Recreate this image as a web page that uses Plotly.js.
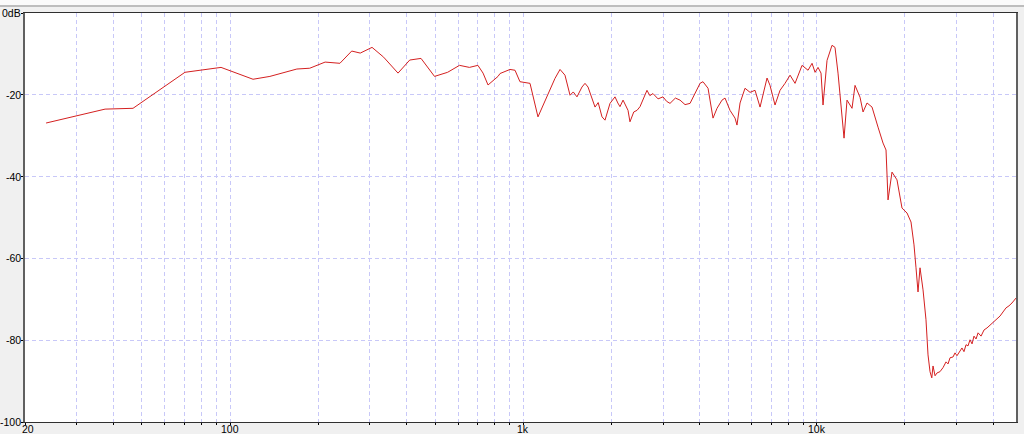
<!DOCTYPE html>
<html>
<head>
<meta charset="utf-8">
<script src="https://cdn.plot.ly/plotly-3.0.1.min.js"></script>
<style>html,body{margin:0;padding:0;background:#f0f0f0;}#chart{width:1024px;height:434px;}</style>
</head>
<body>
<div id="chart"></div>
<script>
// Frequency (Hz)
const freq = [
  23.6, 37.5, 46.7, 70.2, 79.0, 93.2, 119.8, 136.8, 169, 187, 211, 237, 260, 278, 305, 334, 374, 410, 448, 498,
  552, 606, 655, 700, 729, 758, 820, 833, 901, 937, 974, 1054, 1122, 1214, 1282, 1334, 1387, 1443, 1480, 1524, 1585,
  1623, 1662, 1756, 1800, 1855, 1899, 1975, 2054, 2100, 2136, 2188, 2230, 2275, 2310, 2380, 2442, 2500, 2640, 2700, 2768, 2880, 2994, 3080, 3164, 3300, 3422, 3560, 3702, 3850,
  4004, 4098, 4264, 4434, 4576, 4758, 4872, 5066, 5270, 5352, 5482, 5700, 5930, 6166, 6414, 6776, 6936, 7214, 7504, 7804,
  8118, 8442, 8920, 9350, 9648, 9878, 10112, 10352, 10516, 10852, 11286, 11554, 11830, 12402, 12696, 13204, 13520, 14062, 14398, 14856,
  15450, 16194, 16842, 17244, 17520, 18074, 18794, 19550, 20334, 20980, 21480, 21820, 22170, 22520, 23060, 23600, 23980, 24360, 24700, 24940,
  25340, 25740, 26340, 26980, 27620, 28060, 28500, 29180, 29640, 30100, 30820, 31300, 31800, 32320, 32820, 33340, 33880, 34400, 34960, 35520,
  36360, 37220, 38100, 39020, 39940, 40900, 42200, 43200, 44240, 45280, 46360, 47840
];
// Level (dB)
const level = [
  -26.9, -23.5, -23.3, -14.5, -14.0, -13.3, -16.2, -15.5, -13.7, -13.5, -12.0, -12.3, -9.3, -9.8, -8.4, -10.8, -14.7, -11.5, -11.1, -15.5,
  -14.5, -12.8, -13.3, -12.8, -14.7, -17.6, -15.5, -14.8, -13.8, -14.0, -16.8, -17.2, -25.4, -19.7, -16.0, -13.8, -15.2, -20.1, -19.3, -20.5, -18.1,
  -17.2, -18.1, -23.0, -21.9, -25.4, -26.2, -22.1, -20.5, -22.0, -22.9, -21.3, -22.6, -23.8, -26.6, -24.2, -23.8, -22.9, -18.9, -20.2, -19.7, -21.0, -20.5, -21.6, -22.1, -20.8, -21.3, -22.4, -22.1, -19.7,
  -17.2, -16.8, -18.4, -25.7, -23.3, -21.3, -20.8, -23.8, -25.7, -27.4, -22.0, -18.4, -19.4, -18.9, -23.0, -15.9, -17.7, -22.5, -18.9, -17.2,
  -15.2, -17.2, -12.8, -14.0, -12.3, -14.5, -13.3, -14.7, -22.5, -11.6, -7.9, -8.4, -14.7, -30.6, -21.3, -23.3, -17.7, -20.6, -24.2, -22.0,
  -23.0, -27.9, -31.8, -33.5, -45.7, -38.9, -40.8, -47.7, -48.9, -51.1, -56.7, -62.3, -68.2, -62.3, -67.7, -75.0, -83.6, -87.7, -89.2, -86.3,
  -88.7, -88.0, -87.7, -86.7, -85.3, -85.8, -84.3, -84.1, -83.1, -83.8, -82.8, -81.9, -82.8, -81.1, -81.4, -79.9, -80.9, -79.0, -79.7, -78.2,
  -79.0, -77.5, -77.0, -76.3, -75.5, -75.0, -74.1, -73.1, -72.1, -71.6, -70.9, -69.7
];
// Grid / tick positions
const xTickVals = [20,30,40,50,60,70,80,90,100,200,300,400,500,600,700,800,900,1000,2000,3000,4000,5000,6000,7000,8000,9000,10000,20000,30000,40000];
// Labelled x ticks
const xLabelVals = [20, 100, 1000, 10000];
const xLabelText = ['20', '100', '1k', '10k'];
// Y ticks
const yTickVals = [0, -20, -40, -60, -80, -100];
const yTickText = ['0dB', '-20', '-40', '-60', '-80', '-100'];

const gridCol = '#c8c8f8';
const xFont = {family: '"Liberation Sans", Arial, sans-serif', size: 10.5, color: '#000'};
const yFont = {family: '"Liberation Sans", Arial, sans-serif', size: 10.5, color: '#000'};

const annotations = [];
xLabelVals.forEach((v, i) => {
  annotations.push({
    xref: 'x', yref: 'paper', x: Math.log10(v), y: 0,
    xanchor: 'center', yanchor: 'top', yshift: 0, xshift: i === 0 ? 3 : 0,
    borderpad: 0,
    text: xLabelText[i], showarrow: false, font: xFont
  });
});
yTickVals.forEach((v, i) => {
  annotations.push({
    xref: 'paper', yref: 'y', x: 0, y: v,
    xanchor: 'right', yanchor: 'middle', xshift: -2,
    text: yTickText[i], showarrow: false, font: yFont
  });
});

Plotly.newPlot('chart', [{
  x: freq, y: level, type: 'scatter', mode: 'lines',
  line: {color: '#d42020', width: 1}, hoverinfo: 'skip'
}], {
  width: 1024, height: 434,
  margin: {l: 25, r: 8, t: 13, b: 12},
  paper_bgcolor: '#f0f0f0', plot_bgcolor: '#ffffff',
  showlegend: false,
  xaxis: {
    type: 'log', range: [Math.log10(20), Math.log10(47840)],
    tickvals: xTickVals, showticklabels: false,
    ticks: 'outside', ticklen: 2, tickcolor: '#000',
    showgrid: true, gridcolor: gridCol, griddash: '4px,3px', gridwidth: 1,
    showline: true, linecolor: '#303030', linewidth: 1, mirror: true,
    zeroline: false, fixedrange: true
  },
  yaxis: {
    range: [-100, 0],
    tickvals: yTickVals, showticklabels: false,
    ticks: 'outside', ticklen: 2, tickcolor: '#000',
    showgrid: true, gridcolor: gridCol, griddash: '4px,3px', gridwidth: 1,
    showline: true, linecolor: '#606060', linewidth: 2, mirror: true,
    zeroline: false, fixedrange: true
  },
  annotations: annotations,
  shapes: [
    {type: 'rect', xref: 'paper', yref: 'paper', x0: -0.03, x1: 1.01, y0: 1 + 7/409, y1: 1 + 13.5/409,
     fillcolor: '#fafafa', line: {width: 0}, layer: 'above'},
    {type: 'line', xref: 'paper', yref: 'paper', x0: -0.03, x1: 1.01, y0: 1 + 7/409, y1: 1 + 7/409,
     line: {color: '#bdbdbd', width: 2}, layer: 'above'}
  ]
}, {staticPlot: true});
</script>
</body>
</html>
